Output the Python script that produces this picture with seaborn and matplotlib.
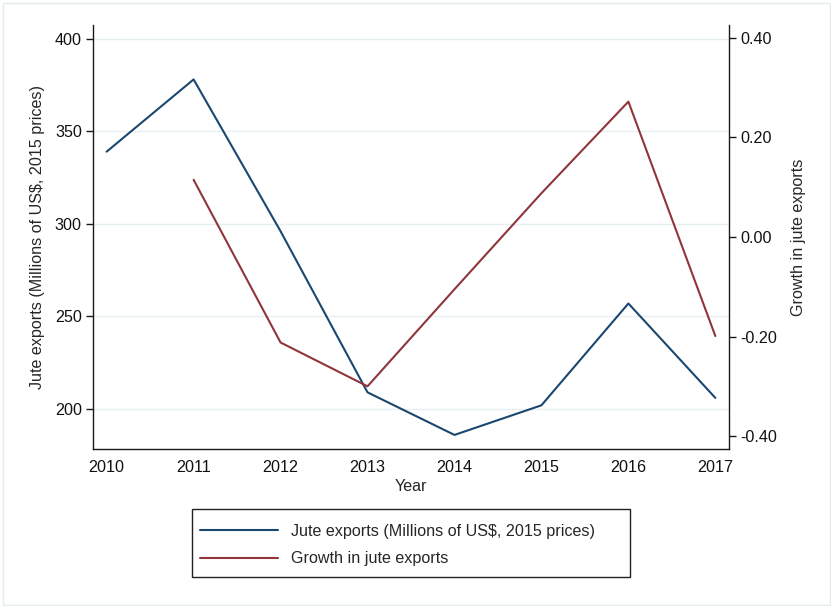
import matplotlib
matplotlib.use("Agg")
import matplotlib.pyplot as plt
from matplotlib.patches import Rectangle
from matplotlib.ticker import FormatStrFormatter
import numpy as np
import pandas as pd
import seaborn as sns

years = [2010, 2011, 2012, 2013, 2014, 2015, 2016, 2017]
jute_exports = [339, 378, 296, 209, 186, 202, 257, 206]
growth = [np.nan, 0.115, -0.212, -0.300, -0.105, 0.088, 0.272, -0.199]

left_ticks = [200, 250, 300, 350, 400]
right_ticks = [-0.40, -0.20, 0.00, 0.20, 0.40]

label_jute = "Jute exports (Millions of US$, 2015 prices)"
label_growth = "Growth in jute exports"

navy = "#1a476f"
maroon = "#90353b"
grid_col = "#e6eff1"

sns.set_style("white")
plt.rcParams["font.family"] = ["Liberation Sans", "DejaVu Sans"]

df = pd.DataFrame({"Year": years, "jute": jute_exports, "growth": growth})

fig = plt.figure(figsize=(8.31, 6.06), dpi=100)
fig.patch.set_facecolor("white")
# faint outer frame around the graph region
fig.patches.append(Rectangle((3 / 831, 1 - 605 / 606), 827 / 831, 602 / 606,
                             transform=fig.transFigure, fill=False,
                             edgecolor="#e3edef", linewidth=1.0))

ax = fig.add_axes([93 / 831, 1 - 449 / 606, (729 - 93) / 831, (449 - 25) / 606])
ax2 = ax.twinx()

sns.lineplot(data=df, x="Year", y="jute", ax=ax, color=navy, linewidth=1.5,
             label=label_jute, legend=False)
sns.lineplot(data=df.dropna(), x="Year", y="growth", ax=ax2, color=maroon,
             linewidth=1.5, label=label_growth, legend=False)

ax.set_xlim(2009.843, 2017.157)
ax.set_ylim(178.4, 407.4)
ax2.set_ylim(-0.426, 0.426)

ax.set_xticks(years)
ax.set_yticks(left_ticks)
ax2.set_yticks(right_ticks)
ax2.yaxis.set_major_formatter(FormatStrFormatter("%.2f"))

for a in (ax, ax2):
    a.set_facecolor("none")
    a.spines["top"].set_visible(False)
    for s in ("left", "right", "bottom"):
        a.spines[s].set_color("#1a1a1a")
        a.spines[s].set_linewidth(1.0)
    a.tick_params(axis="both", length=5, width=1.0, color="#1a1a1a",
                  labelsize=11.6, labelcolor="#111111", pad=3)
ax.spines["right"].set_visible(False)
ax2.spines["left"].set_visible(False)
ax2.spines["bottom"].set_visible(False)

ax.yaxis.grid(True, color=grid_col, linewidth=1.0)
ax.set_axisbelow(True)

ax.set_xlabel("Year", fontsize=11.6, labelpad=3)
ax.set_ylabel(label_jute, fontsize=11.6, labelpad=7)
ax2.set_ylabel(label_growth, fontsize=11.6, labelpad=10)

# legend below the plot with a box
fig.patches.append(Rectangle((192 / 831, 1 - 577 / 606), (630 - 192) / 831,
                             (577 - 509) / 606, transform=fig.transFigure,
                             fill=False, edgecolor="#222222", linewidth=1.0))
h1, l1 = ax.get_legend_handles_labels()
h2, l2 = ax2.get_legend_handles_labels()
fig.legend(h1 + h2, l1 + l2, loc="upper left",
           bbox_to_anchor=(200 / 831, 1 - 524 / 606), frameon=False,
           fontsize=11.6, handlelength=4.85, handletextpad=0.78,
           labelspacing=0.76, borderpad=0.0, borderaxespad=0.0)

fig.savefig("out.png", dpi=100)
